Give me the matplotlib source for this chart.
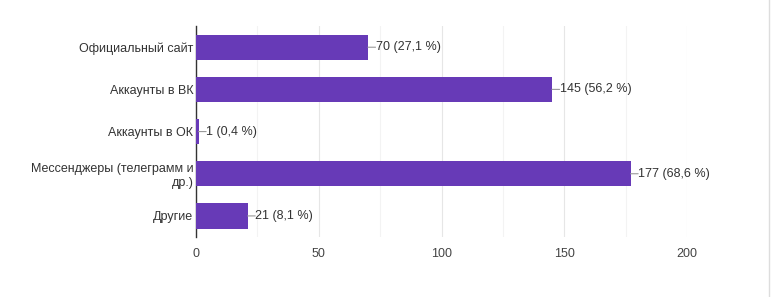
import numpy as np
import matplotlib
matplotlib.use('Agg')
from matplotlib import pyplot as plt
from matplotlib.lines import Line2D

plt.rcParams['font.family'] = ['Liberation Sans', 'DejaVu Sans']

categories = ['Официальный сайт', 'Аккаунты в ВК', 'Аккаунты в ОК',
              'Мессенджеры (телеграмм и\nдр.)', 'Другие']
counts = [70, 145, 1, 177, 21]
percents = ['27,1', '56,2', '0,4', '68,6', '8,1']
xticks = [0, 50, 100, 150, 200]

fig = plt.figure(figsize=(7.78, 2.97), dpi=100)
ax = fig.add_axes([0.252, 0.202, 0.631, 0.710])

y = np.arange(len(categories))
ax.barh(y, counts, height=0.6, color='#673ab7', zorder=3)

for i, v in enumerate(counts):
    # short leader line from bar end to the label
    ax.annotate('', xy=(v, i), xytext=(5.5, 0), textcoords='offset points',
                arrowprops=dict(arrowstyle='-', color='#999999', lw=0.8,
                                shrinkA=0, shrinkB=0))
    ax.annotate('%d (%s %%)' % (v, percents[i]), xy=(v, i), xytext=(5.5, 0),
                textcoords='offset points', va='center', ha='left',
                fontsize=9, color='#333333')

ax.set_xlim(0, 200)
ax.set_ylim(len(categories) - 0.5, -0.5)
ax.set_yticks(y)
ax.set_yticklabels(categories, fontsize=9, color='#333333')
ax.set_xticks(xticks)
ax.set_xticklabels([str(t) for t in xticks], fontsize=9, color='#444444')
ax.set_xticks([25, 75, 125, 175], minor=True)
ax.grid(axis='x', which='major', color='#e6e6e6', lw=0.8, zorder=0)
ax.grid(axis='x', which='minor', color='#f3f3f3', lw=0.8, zorder=0)
ax.tick_params(axis='y', length=0, pad=2)
ax.tick_params(axis='x', which='both', length=0, pad=8)

for s in ['top', 'right', 'bottom']:
    ax.spines[s].set_visible(False)
ax.spines['left'].set_color('#333333')
ax.spines['left'].set_linewidth(1.0)

# faint frame line on the right of the screenshot
fig.add_artist(Line2D([0.988, 0.988], [0.0, 1.0], color='#dddddd', lw=1.0))

fig.savefig('out.png', dpi=100, facecolor='white')
